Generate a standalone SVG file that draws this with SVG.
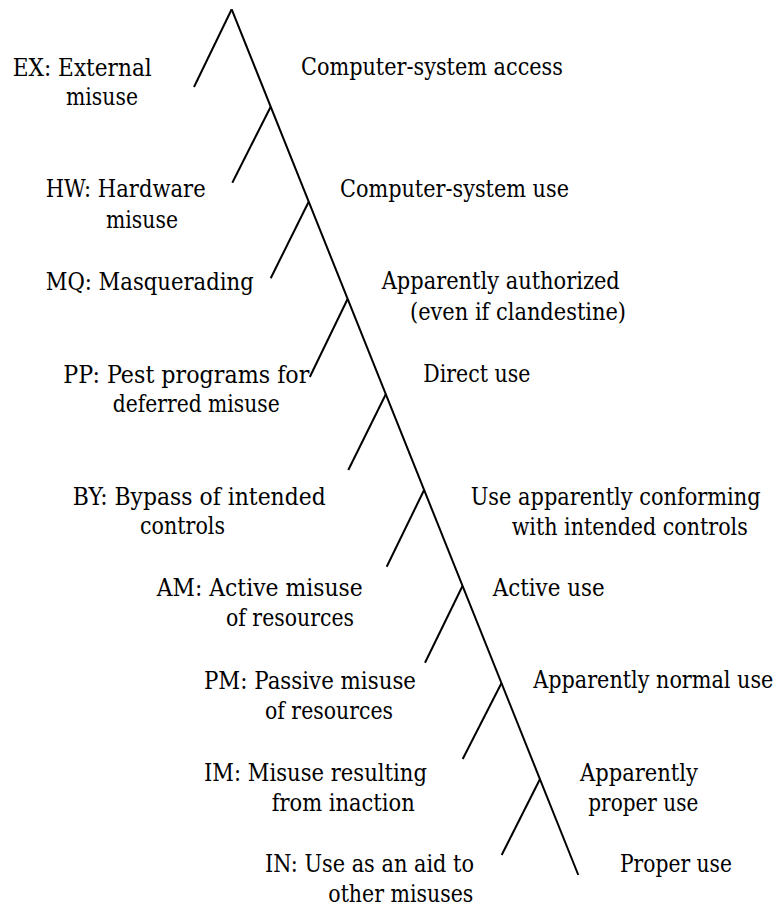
<svg xmlns="http://www.w3.org/2000/svg" width="782" height="909" viewBox="0 0 782 909">
  <style>
    .lbl { font-family: 'DejaVu Serif', serif; font-size: 24px; fill: #000; }
    .edge { stroke: #000; stroke-width: 2; fill: none; stroke-linecap: butt; }
  </style>
  <rect width="782" height="909" fill="#fff"/>

  <!-- tree trunk and left-hand branches -->
  <g id="connectors">
    <line class="edge" x1="231.7" y1="9.3" x2="578.3" y2="875"/>
    <line class="edge" x1="231.7" y1="9.3" x2="194" y2="87"/>
    <line class="edge" x1="270.7" y1="106.7" x2="232.3" y2="182.7"/>
    <line class="edge" x1="308.7" y1="201.7" x2="270.7" y2="278.3"/>
    <line class="edge" x1="347.6" y1="299" x2="309.8" y2="377"/>
    <line class="edge" x1="385.8" y1="394.3" x2="348.3" y2="470"/>
    <line class="edge" x1="424.1" y1="490" x2="386.7" y2="566.7"/>
    <line class="edge" x1="462.5" y1="586" x2="425" y2="662.7"/>
    <line class="edge" x1="501.4" y1="683.3" x2="462.7" y2="759"/>
    <line class="edge" x1="539.9" y1="779.3" x2="501.7" y2="855"/>
  </g>

  <!-- labels are set slightly condensed: scale(0.87,1) plus a local textLength -->

  <!-- misuse classes (left) -->
  <g id="EX">
    <text class="lbl" transform="translate(12.7,76) scale(0.87,1)" textLength="159.8" lengthAdjust="spacingAndGlyphs">EX: External</text>
    <text class="lbl" transform="translate(66,105) scale(0.87,1)" textLength="82.8" lengthAdjust="spacingAndGlyphs">misuse</text>
  </g>
  <g id="HW">
    <text class="lbl" transform="translate(45.7,197.3) scale(0.87,1)" textLength="183.9" lengthAdjust="spacingAndGlyphs">HW: Hardware</text>
    <text class="lbl" transform="translate(106,228.3) scale(0.87,1)" textLength="82.8" lengthAdjust="spacingAndGlyphs">misuse</text>
  </g>
  <g id="MQ">
    <text class="lbl" transform="translate(45.7,290) scale(0.87,1)" textLength="239.1" lengthAdjust="spacingAndGlyphs">MQ: Masquerading</text>
  </g>
  <g id="PP">
    <text class="lbl" transform="translate(63.3,382.7) scale(0.87,1)" textLength="282.8" lengthAdjust="spacingAndGlyphs">PP: Pest programs for</text>
    <text class="lbl" transform="translate(112.7,411.7) scale(0.87,1)" textLength="192" lengthAdjust="spacingAndGlyphs">deferred misuse</text>
  </g>
  <g id="BY">
    <text class="lbl" transform="translate(72.7,505) scale(0.87,1)" textLength="290.8" lengthAdjust="spacingAndGlyphs">BY: Bypass of intended</text>
    <text class="lbl" transform="translate(140,534) scale(0.87,1)" textLength="97.7" lengthAdjust="spacingAndGlyphs">controls</text>
  </g>
  <g id="AM">
    <text class="lbl" transform="translate(156.7,596) scale(0.87,1)" textLength="236.8" lengthAdjust="spacingAndGlyphs">AM: Active misuse</text>
    <text class="lbl" transform="translate(226,626) scale(0.87,1)" textLength="147.1" lengthAdjust="spacingAndGlyphs">of resources</text>
  </g>
  <g id="PM">
    <text class="lbl" transform="translate(204,689.3) scale(0.87,1)" textLength="243.7" lengthAdjust="spacingAndGlyphs">PM: Passive misuse</text>
    <text class="lbl" transform="translate(265,719.3) scale(0.87,1)" textLength="147.1" lengthAdjust="spacingAndGlyphs">of resources</text>
  </g>
  <g id="IM">
    <text class="lbl" transform="translate(204,780.7) scale(0.87,1)" textLength="256.3" lengthAdjust="spacingAndGlyphs">IM: Misuse resulting</text>
    <text class="lbl" transform="translate(271.7,810.7) scale(0.87,1)" textLength="164.4" lengthAdjust="spacingAndGlyphs">from inaction</text>
  </g>
  <g id="IN">
    <text class="lbl" transform="translate(265,871.7) scale(0.87,1)" textLength="240.2" lengthAdjust="spacingAndGlyphs">IN: Use as an aid to</text>
    <text class="lbl" transform="translate(328.3,901.7) scale(0.87,1)" textLength="166.7" lengthAdjust="spacingAndGlyphs">other misuses</text>
  </g>

  <!-- use classes (right) -->
  <g id="access">
    <text class="lbl" transform="translate(301,75) scale(0.87,1)" textLength="301.1" lengthAdjust="spacingAndGlyphs">Computer-system access</text>
  </g>
  <g id="use">
    <text class="lbl" transform="translate(340,197.3) scale(0.87,1)" textLength="263.2" lengthAdjust="spacingAndGlyphs">Computer-system use</text>
  </g>
  <g id="authorized">
    <text class="lbl" transform="translate(381.7,289.3) scale(0.87,1)" textLength="273.6" lengthAdjust="spacingAndGlyphs">Apparently authorized</text>
    <text class="lbl" transform="translate(410,319.5) scale(0.87,1)" textLength="248.3" lengthAdjust="spacingAndGlyphs">(even if clandestine)</text>
  </g>
  <g id="direct">
    <text class="lbl" transform="translate(423.3,381.7) scale(0.87,1)" textLength="123" lengthAdjust="spacingAndGlyphs">Direct use</text>
  </g>
  <g id="conforming">
    <text class="lbl" transform="translate(470.7,505) scale(0.87,1)" textLength="333.3" lengthAdjust="spacingAndGlyphs">Use apparently conforming</text>
    <text class="lbl" transform="translate(511.7,535) scale(0.87,1)" textLength="271.3" lengthAdjust="spacingAndGlyphs">with intended controls</text>
  </g>
  <g id="active">
    <text class="lbl" transform="translate(492.7,596) scale(0.87,1)" textLength="128.7" lengthAdjust="spacingAndGlyphs">Active use</text>
  </g>
  <g id="normal">
    <text class="lbl" transform="translate(533.3,688.3) scale(0.87,1)" textLength="275.9" lengthAdjust="spacingAndGlyphs">Apparently normal use</text>
  </g>
  <g id="proper">
    <text class="lbl" transform="translate(580,780.7) scale(0.87,1)" textLength="135.6" lengthAdjust="spacingAndGlyphs">Apparently</text>
    <text class="lbl" transform="translate(588.3,811.3) scale(0.87,1)" textLength="126.4" lengthAdjust="spacingAndGlyphs">proper use</text>
  </g>
  <g id="properuse">
    <text class="lbl" transform="translate(620,872.3) scale(0.87,1)" textLength="128.7" lengthAdjust="spacingAndGlyphs">Proper use</text>
  </g>
</svg>
